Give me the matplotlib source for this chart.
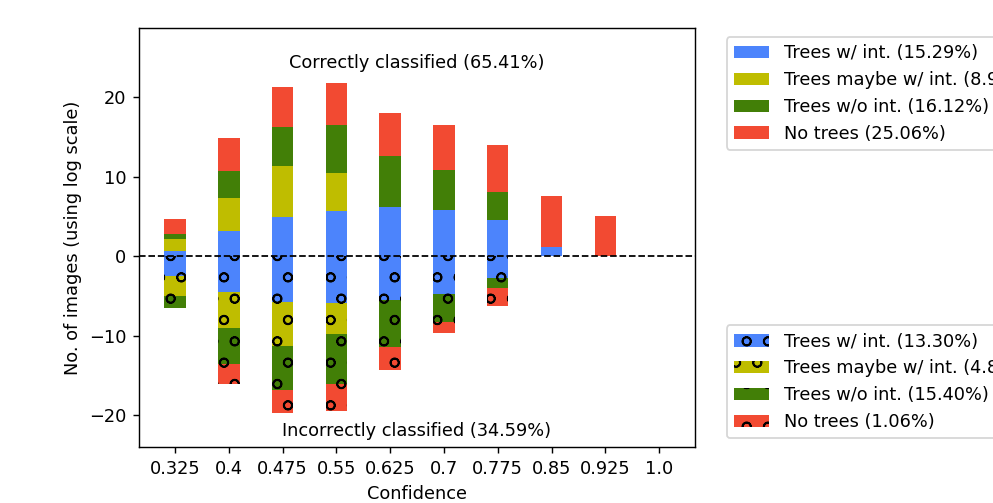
import numpy as np
import matplotlib
matplotlib.use('Agg')
import matplotlib.pyplot as plt

conf = ['0.325', '0.4', '0.475', '0.55', '0.625', '0.7', '0.775', '0.85', '0.925', '1.0']
labels = ['Trees w/ int.', 'Trees maybe w/ int.', 'Trees w/o int.', 'No trees']
colors = ['#4c84fc', '#bfbd00', '#427f07', '#f24a32']

# correctly classified (log scale counts)
corr_int = [0.72, 3.14, 4.90, 5.70, 6.20, 5.87, 4.57, 1.18, 0, 0]
corr_maybe = [1.42, 4.19, 6.42, 4.83, 0, 0, 0, 0, 0, 0]
corr_wo = [0.67, 3.36, 4.99, 5.95, 6.42, 5.03, 3.52, 0, 0, 0]
corr_none = [1.94, 4.19, 5.03, 5.32, 5.46, 5.57, 5.96, 6.42, 5.03, 0]
corr_pct = [15.29, 8.94, 16.12, 25.06]

# incorrectly classified
inc_int = [2.52, 4.44, 5.79, 5.91, 5.45, 4.78, 2.72, 0, 0, 0]
inc_maybe = [2.43, 4.53, 5.45, 3.85, 0, 0, 0, 0, 0, 0]
inc_wo = [1.55, 4.53, 5.57, 6.29, 5.91, 3.52, 1.26, 0, 0, 0]
inc_none = [0, 2.52, 2.94, 3.36, 2.89, 1.30, 2.23, 0, 0, 0]
inc_pct = [13.30, 4.83, 15.40, 1.06]

x = np.arange(len(conf))
w = 0.4

fig, ax = plt.subplots(figsize=(993 / 128, 503 / 128), dpi=128)
fig.subplots_adjust(left=0.14, right=0.70, top=0.944, bottom=0.111)

h1 = []
bottom = np.zeros(len(conf))
for vals, c, lab, p in zip([corr_int, corr_maybe, corr_wo, corr_none], colors, labels, corr_pct):
    b = ax.bar(x, vals, w, bottom=bottom, color=c, label='%s (%.2f%%)' % (lab, p))
    h1.append(b)
    bottom += np.array(vals)

h2 = []
bottom = np.zeros(len(conf))
for vals, c, lab, p in zip([inc_int, inc_maybe, inc_wo, inc_none], colors, labels, inc_pct):
    b = ax.bar(x, -np.array(vals), w, bottom=bottom, color=c, hatch='o',
               label='%s (%.2f%%)' % (lab, p))
    h2.append(b)
    bottom -= np.array(vals)

ax.axhline(0, color='k', linestyle='--', linewidth=1)
ax.set_xticks(x)
ax.set_xticklabels(conf)
ax.set_ylim(-24, 28.7)
ax.set_xlabel('Confidence')
ax.set_ylabel('No. of images (using log scale)')
ax.text(0.5, 0.916, 'Correctly classified (65.41%)', transform=ax.transAxes,
        ha='center', va='center')
ax.text(0.5, 0.038, 'Incorrectly classified (34.59%)', transform=ax.transAxes,
        ha='center', va='center')

# legends run off the right edge, as in the original
leg1 = ax.legend(handles=h1, loc='upper left', bbox_to_anchor=(1.041, 1))
ax.add_artist(leg1)
ax.legend(handles=h2, loc='lower left', bbox_to_anchor=(1.041, 0))

plt.savefig('out.png', dpi=128)
